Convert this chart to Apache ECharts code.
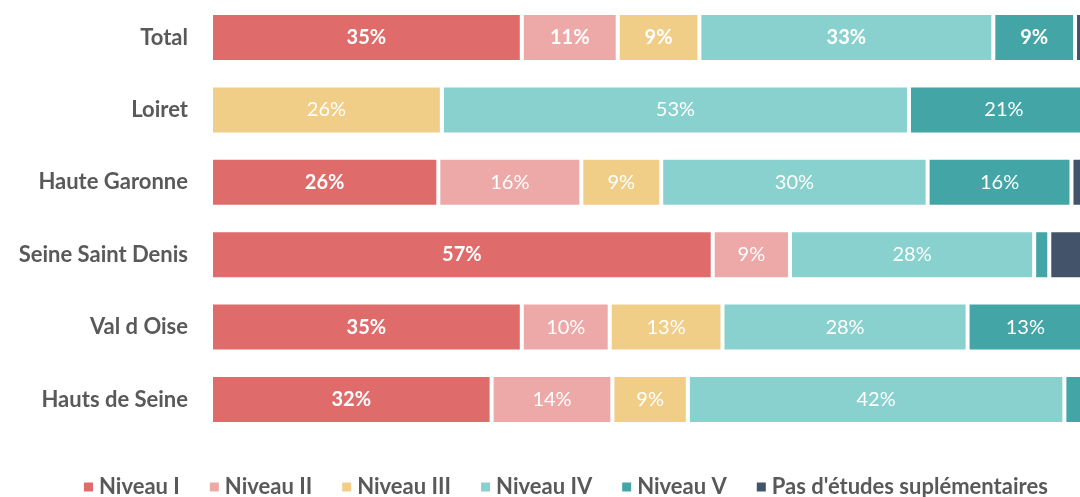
<!DOCTYPE html>
<html>
<head>
<meta charset="utf-8">
<script src="https://cdn.jsdelivr.net/npm/echarts@6/dist/echarts.min.js"></script>
<style>
html,body{margin:0;padding:0;background:#fff;}
#chart{width:1080px;height:497px;}
</style>
</head>
<body>
<div id="chart"></div>
<script>
const categories = ['Total', 'Loiret', 'Haute Garonne', 'Seine Saint Denis', 'Val d Oise', 'Hauts de Seine'];
const seriesNames = ['Niveau I', 'Niveau II', 'Niveau III', 'Niveau IV', 'Niveau V', "Pas d'études suplémentaires"];
const niveauI   = [35.0, 0,    25.6, 56.5, 35.0, 31.6];
const niveauII  = [10.8, 0,    16.1, 8.7,  9.9,  13.6];
const niveauIII = [9.2,  26.0, 9.0,  0,    12.7, 8.5];
const niveauIV  = [33.1, 52.6, 30.0, 27.5, 27.6, 42.4];
const niveauV   = [9.2,  21.4, 16.2, 1.7,  13.0, 3.9];
const pasEtudes = [2.7,  0,    3.1,  5.6,  1.8,  0];
const colors = ['#E06B6B', '#EDA8A8', '#F0CE88', '#88D1CF', '#43A5A6', '#435369'];

const allValues = [niveauI, niveauII, niveauIII, niveauIV, niveauV, pasEtudes];

const series = allValues.map((vals, si) => ({
  name: seriesNames[si],
  type: 'bar',
  stack: 'total',
  barWidth: 49,
  clip: false,
  itemStyle: { color: colors[si], borderColor: '#ffffff', borderWidth: 2 },
  label: {
    show: true,
    position: 'inside',
    color: '#ffffff',
    fontFamily: 'Lato',
    fontSize: 20,
    formatter: p => (p.value >= 7 ? Math.round(p.value) + '%' : '')
  },
  data: vals.map((v, ci) => ({
    value: v,
    label: { fontWeight: (ci === 0 || si === 0) ? 'bold' : 'normal' }
  }))
}));

const chart = echarts.init(document.getElementById('chart'), null, { renderer: 'canvas' });
chart.setOption({
  animation: false,
  color: colors,
  grid: { left: 211, right: 0, top: 1.3, bottom: 61.3, containLabel: false },
  xAxis: { type: 'value', min: 0, max: 97.86, show: false, splitLine: { show: false } },
  yAxis: {
    type: 'category',
    data: categories,
    inverse: true,
    axisLine: { show: false },
    axisTick: { show: false },
    axisLabel: { color: '#595959', fontFamily: 'Lato', fontWeight: 'bold', fontSize: 22, margin: 23 }
  },
  legend: {
    data: seriesNames,
    left: 77,
    top: 471,
    icon: 'rect',
    itemWidth: 11,
    itemHeight: 11,
    itemGap: 28,
    selectedMode: false,
    textStyle: { color: '#595959', fontFamily: 'Lato', fontWeight: 'bold', fontSize: 22 }
  },
  series: series
});
</script>
</body>
</html>
